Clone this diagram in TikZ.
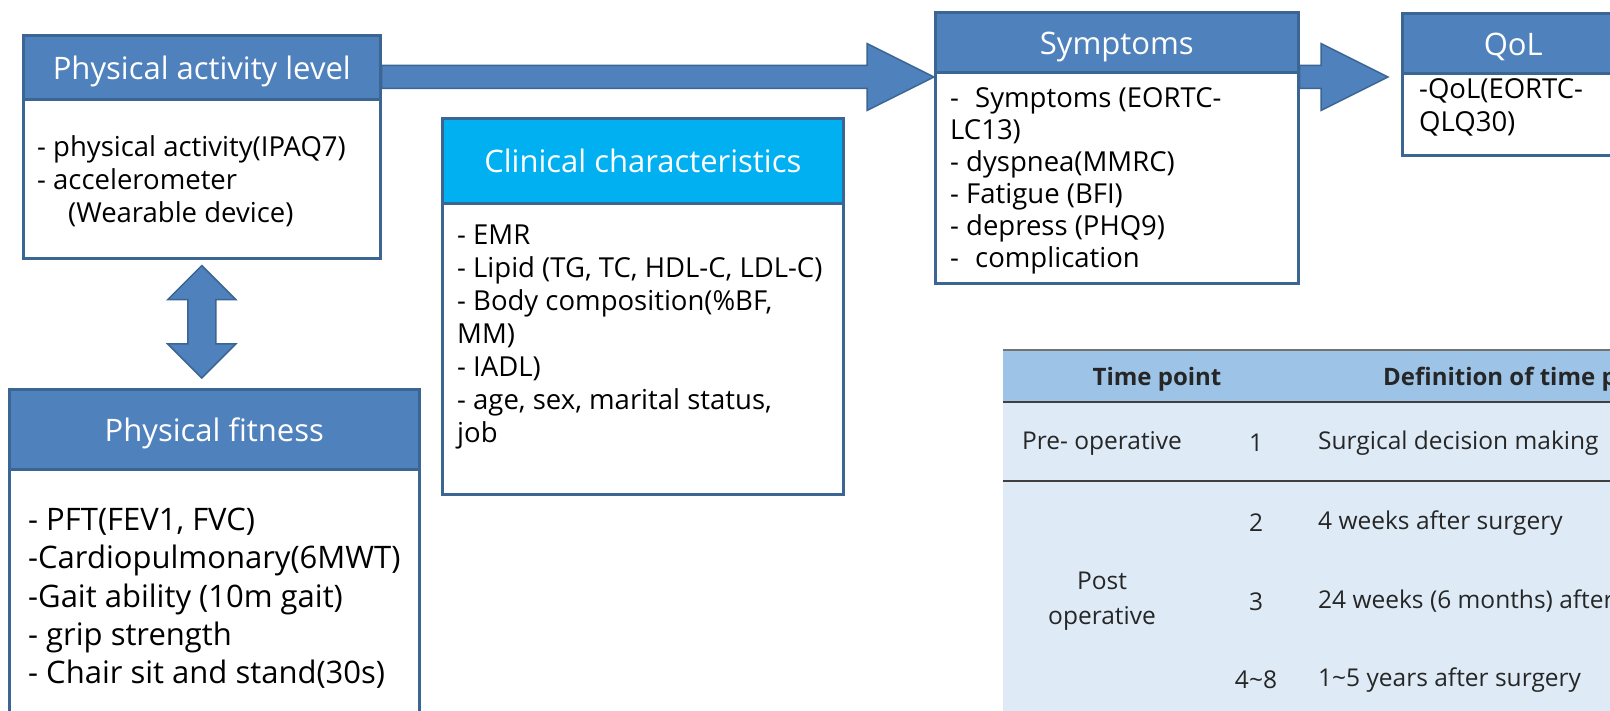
\documentclass[tikz,border=0pt]{standalone}
\usepackage{fontspec}
\setmainfont{Open Sans}
\usepackage{xcolor}
\usetikzlibrary{calc}

\definecolor{hdblue}{HTML}{4F81BD}
\definecolor{edgeblue}{HTML}{3B6592}
\definecolor{hdcyan}{HTML}{00B0F0}
\definecolor{thead}{HTML}{9DC3E6}
\definecolor{tbody}{HTML}{DEEBF7}
\definecolor{tline}{HTML}{404040}

\newcommand{\hdfont}{\fontsize{31}{37}\selectfont}
\newcommand{\txfont}{\fontsize{27.5}{33}\selectfont}
\newcommand{\fitfont}{\fontsize{31}{38.2}\selectfont}
\newcommand{\tbfont}{\fontsize{24.5}{35}\selectfont}

\begin{document}
\begin{tikzpicture}[x=1pt, y=-1pt,
        frame/.style={draw=edgeblue, line width=2.6pt, fill=white, anchor=north west, inner sep=0pt},
        head/.style={frame, fill=hdblue, text=white, font=\hdfont, text height=23.5pt, text depth=0pt},
        items/.style={anchor=north west, inner sep=0pt, align=left, font=\txfont},
        cell/.style={inner sep=0pt, font=\tbfont, text=black!85},
        barrow/.style={draw=edgeblue, line width=1.5pt, fill=hdblue, line join=miter}]
    \path[use as bounding box, clip] (0,0) rectangle (1610,711);

    \node[frame, minimum width=357pt, minimum height=223pt] (pal) at (22,34) {};
    \node[head, minimum width=357pt, minimum height=64pt] (palh) at (22,34) {Physical activity level};
    \node[items] (paltx) at (37,135.5) {- physical activity(IPAQ7)\\- accelerometer\\\hspace*{31pt}(Wearable device)};

    \node[frame, minimum width=410pt, minimum height=400pt] (fit) at (8,388) {};
    \node[head, minimum width=410pt, minimum height=80pt] (fith) at (8,388) {Physical fitness};
    \node[items, font=\fitfont] (fittx) at (28,508) {- PFT(FEV1, FVC)\\-Cardiopulmonary(6MWT)\\-Gait ability (10m gait)\\- grip strength\\- Chair sit and stand(30s)};

    \node[frame, minimum width=401pt, minimum height=376pt] (clin) at (441,117) {};
    \node[head, fill=hdcyan, minimum width=401pt, minimum height=85pt] (clinh) at (441,117) {Clinical characteristics};
    \node[items] (clintx) at (457,224.5) {- EMR\\- Lipid (TG, TC, HDL-C, LDL-C)\\- Body composition(\%BF,\\MM)\\- IADL)\\- age, sex, marital status,\\job};

    \node[frame, minimum width=363pt, minimum height=271pt] (sym) at (934,11) {};
    \node[head, minimum width=363pt, minimum height=60pt] (symh) at (934,11) {Symptoms};
    \node[items, font=\fontsize{27.5}{32}\selectfont] (symtx) at (950,87.5) {-\hspace{9pt} Symptoms (EORTC-\\LC13)\\- dyspnea(MMRC)\\- Fatigue (BFI)\\- depress (PHQ9)\\-\hspace{9pt} complication};

    \node[frame, minimum width=222pt, minimum height=142pt] (qol) at (1401,12) {};
    \node[head, minimum width=222pt, minimum height=60pt] (qolh) at (1401,12) {QoL};
    \node[items] (qoltx) at (1419,78.5) {-QoL(EORTC-\\QLQ30)};

    \path (pal.north east) ++(0,43) coordinate (a1s);
    \coordinate (a1e) at (sym.west |- a1s);
    \coordinate (a2s) at (sym.east |- a1s);
    \coordinate (a2e) at ($(qol.west |- a1s)+(-13,0)$);
    \draw[barrow] ($(a1s)+(0,-11.5)$) -- ($(a1e)+(-67,-11.5)$) -- ($(a1e)+(-67,-33.5)$) -- (a1e)
        -- ($(a1e)+(-67,33.5)$) -- ($(a1e)+(-67,11.5)$) -- ($(a1s)+(0,11.5)$) -- cycle;
    \draw[barrow] ($(a2s)+(0,-11.5)$) -- ($(a2e)+(-67,-11.5)$) -- ($(a2e)+(-67,-33.5)$) -- (a2e)
        -- ($(a2e)+(-67,33.5)$) -- ($(a2e)+(-67,11.5)$) -- ($(a2s)+(0,11.5)$) -- cycle;

    \coordinate (dt) at ($(pal.south)+(0,6)$);
    \coordinate (db) at ($(pal.south |- fit.north)+(0,-10)$);
    \draw[barrow] (dt) -- ++(34,34) -- ++(-20,0) -- ($(db)+(14,-34)$) -- ++(20,0) -- (db)
        -- ++(-34,-34) -- ++(20,0) -- ($(dt)+(-14,34)$) -- ++(-20,0) -- cycle;

    \fill[thead] (1003,350) rectangle (1620,402);
    \fill[tbody] (1003,402) rectangle (1620,720);
    \draw[black!55, line width=1.2pt] (1003,350) -- (1620,350);
    \draw[tline, line width=2pt] (1003,402) -- (1620,402);
    \draw[tline, line width=2pt] (1003,481) -- (1620,481);

    \node[cell, font=\fontsize{24}{30}\selectfont\bfseries] (tp) at (1157,379) {Time point};
    \node[cell, font=\fontsize{24}{30}\selectfont\bfseries, anchor=west] (def) at (1383,379) {Definition of time point};
    \node[cell] (pre) at (1102,443) {Pre- operative};
    \node[cell, align=center] (post) at (1102,601) {Post\\operative};
    \node[cell] (n1) at (1256,443) {1};
    \node[cell] (n2) at (1256,523) {2};
    \node[cell] (n3) at (1256,602) {3};
    \node[cell] (n4) at (1256,680) {4\textasciitilde8};
    \node[cell, anchor=west] (d1) at (1318,443) {Surgical decision making};
    \node[cell, anchor=west] (d2) at (1318,523) {4 weeks after surgery};
    \node[cell, anchor=west] (d3) at (1318,602) {24 weeks (6 months) after surgery};
    \node[cell, anchor=west] (d4) at (1318,680) {1\textasciitilde5 years after surgery};
\end{tikzpicture}
\end{document}
